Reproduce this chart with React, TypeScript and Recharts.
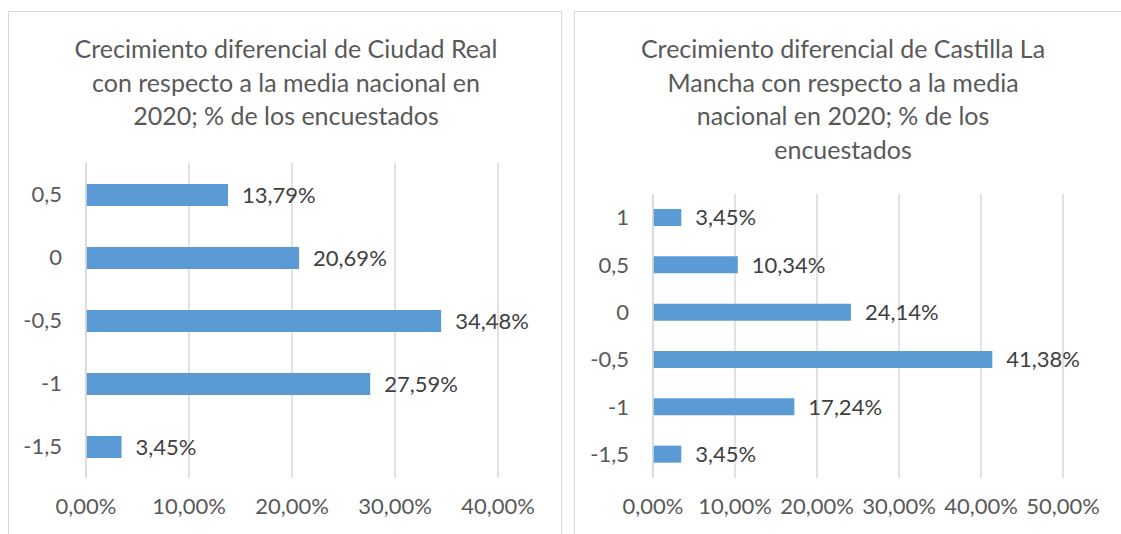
import React from 'react';
import { BarChart, Bar, XAxis, YAxis, CartesianGrid, LabelList } from 'recharts';

const crCategories = ['0,5', '0', '-0,5', '-1', '-1,5'];
const crValues = [13.79, 20.69, 34.48, 27.59, 3.45];
const crTicks = [0, 10, 20, 30, 40];
const crTitle = ['Crecimiento diferencial de Ciudad Real', 'con respecto a la media nacional en', '2020; % de los encuestados'];

const clmCategories = ['1', '0,5', '0', '-0,5', '-1', '-1,5'];
const clmValues = [3.45, 10.34, 24.14, 41.38, 17.24, 3.45];
const clmTicks = [0, 10, 20, 30, 40, 50];
const clmTitle = ['Crecimiento diferencial de Castilla La', 'Mancha con respecto a la media', 'nacional en 2020; % de los', 'encuestados'];

const FONT = 'Lato, "Open Sans", sans-serif';
const BAR = '#5B9BD5';
const GRID = '#D9D9D9';
const TEXT = '#595959';

const pct = (v: any) => `${Number(v).toFixed(2).replace('.', ',')}%`;

type PanelProps = {
  categories: string[]
  values: number[]
  ticks: number[]
  left: number
  width: number
  top: number
  right: number
  yWidth: number
  barSize: number
}

const Panel = ({ categories, values, ticks, left, width, top, right, yWidth, barSize }: PanelProps) => {
  const data = categories.map((c, i) => ({ cat: c, value: values[i] }));
  return (
    <div style={{ position: 'absolute', left, top: 0 }}>
      <BarChart
        width={width}
        height={534}
        data={data}
        layout="vertical"
        margin={{ top, right, bottom: 16, left: 0 }}
      >
        <CartesianGrid horizontal={false} stroke={GRID} strokeWidth={1.5} />
        <XAxis
          type="number"
          domain={[0, ticks[ticks.length - 1]]}
          ticks={ticks}
          tickFormatter={pct}
          axisLine={false}
          tickLine={false}
          height={40}
          tickMargin={14}
          interval={0}
          tick={{ fill: TEXT, fontSize: 22, fontFamily: FONT }}
        />
        <YAxis
          type="category"
          dataKey="cat"
          width={yWidth}
          axisLine={{ stroke: GRID, strokeWidth: 1.5 }}
          tickLine={false}
          tickSize={0}
          tickMargin={24}
          tick={{ fill: TEXT, fontSize: 22, fontFamily: FONT }}
        />
        <Bar dataKey="value" fill={BAR} barSize={barSize} isAnimationActive={false}>
          <LabelList
            dataKey="value"
            position="right"
            offset={14}
            formatter={pct}
            style={{ fill: '#404040', fontSize: 22, fontFamily: FONT }}
          />
        </Bar>
      </BarChart>
    </div>
  );
};

const Title = ({ lines, cx, top }: { lines: string[], cx: number, top: number }) => (
  <div
    style={{
      position: 'absolute',
      left: cx - 260,
      width: 520,
      top,
      textAlign: 'center',
      fontFamily: FONT,
      fontSize: 25,
      lineHeight: '33.5px',
      color: TEXT,
      whiteSpace: 'nowrap',
    }}
  >
    {lines.map((l, i) => <div key={i}>{l}</div>)}
  </div>
);

const App = () => {
  return (
    <div style={{ position: 'fixed', left: 0, top: 0, width: 1121, height: 534, background: '#fff', overflow: 'hidden' }}>
      <div style={{ position: 'absolute', left: 8, top: 11, width: 554, height: 600, border: `1.5px solid ${GRID}`, boxSizing: 'border-box' }} />
      <div style={{ position: 'absolute', left: 574, top: 11, width: 600, height: 600, border: `1.5px solid ${GRID}`, boxSizing: 'border-box' }} />
      <Title lines={crTitle} cx={286} top={32} />
      <Title lines={clmTitle} cx={843} top={32} />
      <Panel categories={crCategories} values={crValues} ticks={crTicks} left={0} width={560} top={163} right={62} yWidth={86} barSize={22} />
      <Panel categories={clmCategories} values={clmValues} ticks={clmTicks} left={566} width={555} top={194} right={58} yWidth={87} barSize={17} />
    </div>
  );
};

export default App;
